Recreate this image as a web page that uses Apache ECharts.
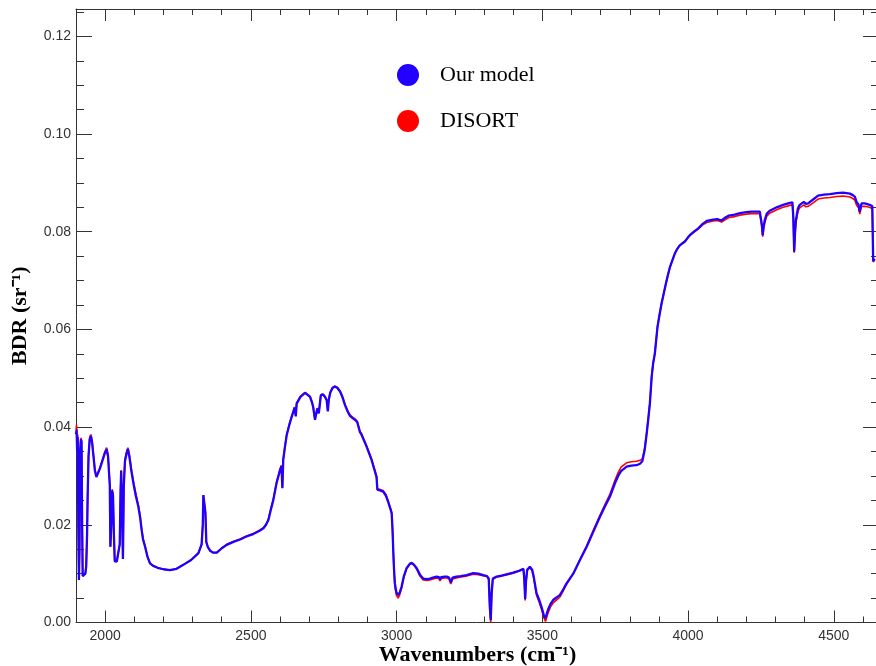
<!DOCTYPE html>
<html>
<head>
<meta charset="utf-8">
<script src="https://cdn.jsdelivr.net/npm/echarts@6/dist/echarts.min.js"></script>
<style>
  html, body { margin: 0; padding: 0; background: #ffffff; }
  #chart { width: 876px; height: 666px; }
</style>
</head>
<body>
<div id="chart"></div>
<script>
// Wavenumber grid (cm^-1) shared by both spectra
const wavenumbers = [
  1900,1902,1904,1906,1908,1910,1912,1914,1917,1919,
  1921,1923,1926,1929,1932,1935,1938,1940,1943,1947,
  1951,1955,1960,1965,1970,1975,1982,1990,1998,2005,
  2010,2014,2016,2018,2021,2024,2027,2030,2033,2040,
  2046,2050,2053,2055,2058,2061,2064,2068,2073,2078,
  2083,2090,2097,2105,2114,2120,2125,2130,2137,2145,
  2154,2165,2180,2200,2222,2245,2268,2295,2320,2331,
  2335,2337,2341,2344,2347,2352,2360,2370,2383,2400,
  2417,2440,2463,2485,2508,2530,2543,2552,2560,2568,
  2577,2588,2600,2605,2608,2611,2617,2623,2632,2640,
  2650,2654,2657,2670,2686,2703,2710,2714,2720,2725,
  2728,2733,2740,2747,2754,2760,2764,2767,2772,2780,
  2788,2797,2806,2815,2823,2832,2840,2850,2857,2865,
  2874,2880,2897,2914,2931,2934,2945,2954,2963,2971,
  2980,2983,2986,2988,2991,2994,2999,3005,3011,3017,
  3025,3034,3045,3052,3060,3069,3080,3091,3105,3114,
  3125,3137,3145,3149,3153,3165,3172,3180,3186,3192,
  3205,3220,3240,3263,3280,3297,3310,3316,3320,3323,
  3326,3330,3343,3360,3380,3400,3420,3435,3438,3441,
  3444,3448,3457,3465,3470,3480,3490,3497,3505,3511,
  3516,3520,3528,3537,3550,3560,3572,3583,3606,3629,
  3652,3675,3698,3715,3732,3749,3760,3770,3789,3805,
  3823,3835,3843,3851,3858,3864,3869,3875,3880,3886,
  3895,3902,3909,3917,3924,3931,3938,3947,3955,3962,
  3970,3980,3989,3998,4006,4020,4035,4050,4064,4086,
  4100,4115,4125,4140,4160,4178,4200,4218,4246,4250,
  4253,4256,4259,4263,4270,4280,4304,4326,4349,4358,
  4361,4364,4367,4370,4377,4383,4397,4404,4412,4429,
  4446,4466,4487,4510,4532,4555,4565,4572,4578,4585,
  4589,4592,4595,4606,4623,4632,4635,4640
];

// BDR (sr^-1) from our model
const ourModel = [
  .0385,.0395,.0350,.0380,.0200,.0087,.0150,.0350,.0375,.0370,
  .0200,.0095,.0092,.0098,.0100,.0115,.0180,.0260,.0340,.0375,
  .0382,.0370,.0340,.0310,.0298,.0300,.0315,.0330,.0345,.0355,
  .0340,.0300,.0280,.0155,.0200,.0270,.0260,.0180,.0125,.0125,
  .0125,.0160,.0270,.0310,.0230,.0130,.0280,.0330,.0345,.0355,
  .0340,.0310,.0285,.0260,.0237,.0215,.0190,.0170,.0155,.0135,
  .0121,.0116,.0112,.0109,.0107,.0110,.0118,.0128,.0142,.0160,
  .0200,.0261,.0260,.0225,.0165,.0155,.0147,.0143,.0143,.0152,
  .0159,.0165,.0170,.0176,.0181,.0188,.0193,.0200,.0210,.0230,
  .0251,.0285,.0312,.0320,.0275,.0333,.0360,.0384,.0405,.0421,
  .0440,.0422,.0448,.0462,.0470,.0462,.0450,.0440,.0415,.0430,
  .0438,.0428,.0465,.0467,.0462,.0455,.0432,.0455,.0470,.0480,
  .0483,.0480,.0473,.0460,.0445,.0432,.0423,.0418,.0415,.0410,
  .0390,.0384,.0360,.0333,.0298,.0272,.0270,.0268,.0260,.0247,
  .0230,.0224,.0190,.0155,.0110,.0080,.0062,.0056,.0062,.0073,
  .0095,.0111,.0120,.0122,.0118,.0111,.0098,.0090,.0089,.0090,
  .0092,.0094,.0093,.0088,.0093,.0094,.0094,.0092,.0082,.0092,
  .0094,.0095,.0097,.0101,.0100,.0097,.0095,.0090,.0030,.0005,
  .0060,.0090,.0094,.0096,.0099,.0102,.0106,.0110,.0090,.0048,
  .0085,.0108,.0114,.0108,.0095,.0060,.0045,.0032,.0015,.0008,
  .0020,.0027,.0038,.0046,.0052,.0056,.0068,.0080,.0100,.0128,
  .0155,.0186,.0217,.0238,.0258,.0285,.0300,.0310,.0319,.0321,
  .0322,.0325,.0330,.0353,.0387,.0420,.0449,.0503,.0530,.0551,
  .0605,.0630,.0653,.0675,.0694,.0712,.0728,.0743,.0756,.0764,
  .0771,.0776,.0780,.0787,.0793,.0800,.0807,.0816,.0822,.0825,
  .0826,.0823,.0828,.0833,.0835,.0838,.0840,.0841,.0841,.0840,
  .0815,.0793,.0810,.0824,.0837,.0843,.0850,.0855,.0859,.0860,
  .0830,.0759,.0800,.0824,.0848,.0855,.0861,.0857,.0858,.0866,
  .0874,.0876,.0877,.0879,.0880,.0878,.0875,.0872,.0861,.0855,
  .0841,.0850,.0858,.0858,.0855,.0852,.0740,.0745
];

// BDR (sr^-1) from DISORT
const disort = [
  .0395,.0405,.0355,.0385,.0200,.0087,.0150,.0352,.0378,.0372,
  .0200,.0095,.0092,.0098,.0100,.0115,.0180,.0262,.0342,.0378,
  .0385,.0373,.0342,.0312,.0300,.0302,.0317,.0332,.0348,.0358,
  .0343,.0303,.0283,.0155,.0200,.0273,.0263,.0180,.0125,.0125,
  .0125,.0160,.0272,.0312,.0230,.0130,.0282,.0333,.0348,.0358,
  .0344,.0314,.0289,.0264,.0240,.0218,.0193,.0172,.0157,.0136,
  .0121,.0116,.0112,.0109,.0107,.0110,.0118,.0128,.0142,.0160,
  .0200,.0261,.0260,.0225,.0165,.0155,.0147,.0143,.0143,.0152,
  .0160,.0166,.0171,.0177,.0182,.0189,.0194,.0201,.0211,.0231,
  .0252,.0287,.0314,.0322,.0277,.0335,.0361,.0385,.0406,.0422,
  .0441,.0423,.0449,.0463,.0471,.0463,.0451,.0441,.0416,.0431,
  .0439,.0429,.0466,.0468,.0463,.0456,.0433,.0456,.0471,.0481,
  .0484,.0481,.0474,.0461,.0446,.0433,.0425,.0420,.0417,.0412,
  .0392,.0386,.0362,.0335,.0300,.0274,.0272,.0270,.0262,.0249,
  .0232,.0225,.0190,.0153,.0106,.0075,.0056,.0050,.0057,.0070,
  .0093,.0110,.0119,.0121,.0117,.0109,.0095,.0087,.0086,.0087,
  .0089,.0091,.0090,.0085,.0090,.0091,.0091,.0089,.0079,.0089,
  .0091,.0093,.0095,.0099,.0098,.0096,.0094,.0088,.0025,.0000,
  .0056,.0088,.0093,.0095,.0098,.0101,.0105,.0109,.0088,.0045,
  .0082,.0106,.0113,.0106,.0092,.0056,.0040,.0027,.0010,.0002,
  .0013,.0020,.0032,.0040,.0047,.0052,.0065,.0078,.0100,.0129,
  .0157,.0189,.0220,.0242,.0263,.0291,.0307,.0318,.0327,.0329,
  .0330,.0332,.0335,.0356,.0389,.0421,.0450,.0503,.0530,.0551,
  .0605,.0630,.0653,.0675,.0694,.0712,.0728,.0743,.0756,.0764,
  .0771,.0776,.0780,.0787,.0792,.0799,.0806,.0814,.0819,.0822,
  .0823,.0820,.0824,.0829,.0831,.0834,.0836,.0837,.0837,.0836,
  .0810,.0790,.0805,.0818,.0832,.0838,.0845,.0850,.0854,.0855,
  .0825,.0757,.0795,.0818,.0842,.0849,.0855,.0851,.0852,.0859,
  .0867,.0869,.0870,.0872,.0873,.0871,.0868,.0865,.0854,.0849,
  .0836,.0845,.0852,.0852,.0850,.0847,.0738,.0742
];

// Tick positions
const xMajorTicks = [2000, 2500, 3000, 3500, 4000, 4500];
const xMinorTicks = [1900, 2000, 2100, 2200, 2300, 2400, 2500, 2600, 2700, 2800, 2900,
                     3000, 3100, 3200, 3300, 3400, 3500, 3600, 3700, 3800, 3900,
                     4000, 4100, 4200, 4300, 4400, 4500, 4600];
const yMajorTicks = [0, 0.02, 0.04, 0.06, 0.08, 0.10, 0.12];
const yMinorTicks = [0.005, 0.01, 0.015, 0.025, 0.03, 0.035, 0.045, 0.05, 0.055,
                     0.065, 0.07, 0.075, 0.085, 0.09, 0.095, 0.105, 0.11, 0.115, 0.125];

const X_MIN = 1900, X_MAX = 4655;
const Y_MIN = 0, Y_MAX = 0.1256;
const AXIS_COLOR = '#333333';
const LABEL_FONT = { fontFamily: 'Liberation Sans', fontSize: 14, color: '#333333' };
const TITLE_FONT = { fontFamily: 'Liberation Serif', fontSize: 22, fontWeight: 'bold', color: '#000000' };

// One axis that only draws inward ticks at the given values (plus optional line/labels)
function tickAxis(kind, position, values, tickLen, opts) {
  const o = opts || {};
  return Object.assign({
    type: 'value',
    position: position,
    min: kind === 'x' ? X_MIN : Y_MIN,
    max: kind === 'x' ? X_MAX : Y_MAX,
    axisLine: { show: !!o.line, onZero: false, lineStyle: { color: AXIS_COLOR, width: 1 } },
    axisTick: { show: true, inside: true, length: tickLen, customValues: values,
                lineStyle: { color: AXIS_COLOR, width: 1 } },
    axisLabel: { show: false },
    splitLine: { show: false }
  }, o.extra || {});
}

const xAxes = [
  tickAxis('x', 'bottom', xMajorTicks, 12, {
    line: true,
    extra: {
      name: 'Wavenumbers (cm⁻¹)',
      nameLocation: 'middle',
      nameGap: 22,
      nameMoveOverlap: false,
      nameTextStyle: TITLE_FONT,
      axisLabel: Object.assign({ show: true, margin: 7, customValues: xMajorTicks,
                                 formatter: v => String(v) }, LABEL_FONT)
    }
  }),
  tickAxis('x', 'bottom', xMinorTicks, 6),
  tickAxis('x', 'top', xMajorTicks, 12, { line: true }),
  tickAxis('x', 'top', xMinorTicks, 6)
];

const yAxes = [
  tickAxis('y', 'left', yMajorTicks, 16, {
    line: true,
    extra: {
      name: 'BDR (sr⁻¹)',
      nameLocation: 'middle',
      nameGap: 45,
      nameMoveOverlap: false,
      nameTextStyle: TITLE_FONT,
      axisLabel: Object.assign({ show: true, margin: 5, customValues: yMajorTicks,
                                 formatter: v => v.toFixed(2) }, LABEL_FONT)
    }
  }),
  tickAxis('y', 'left', yMinorTicks, 8),
  tickAxis('y', 'right', yMajorTicks, 16, { line: true }),
  tickAxis('y', 'right', yMinorTicks, 8)
];

const chart = echarts.init(document.getElementById('chart'), null, { renderer: 'canvas' });

chart.setOption({
  animation: false,
  backgroundColor: '#ffffff',
  grid: { left: 76, top: 9, width: 803, height: 613.5, containLabel: false, outerBoundsMode: 'none' },
  xAxis: xAxes,
  yAxis: yAxes,
  legend: {
    data: ['Our model', 'DISORT'],
    orient: 'vertical',
    left: 392,
    top: 59,
    icon: 'circle',
    itemWidth: 22,
    itemHeight: 22,
    itemGap: 24,
    selectedMode: false,
    textStyle: { fontFamily: 'Liberation Serif', fontSize: 22, color: '#000000',
                 padding: [0, 0, 0, 16] }
  },
  series: [
    {
      name: 'DISORT',
      type: 'line',
      xAxisIndex: 0,
      yAxisIndex: 0,
      showSymbol: false,
      color: '#ff0000',
      lineStyle: { color: '#ff0000', width: 1.6 },
      data: wavenumbers.map((w, i) => [w, disort[i]])
    },
    {
      name: 'Our model',
      type: 'line',
      xAxisIndex: 0,
      yAxisIndex: 0,
      showSymbol: false,
      color: '#2200ff',
      lineStyle: { color: '#2200ff', width: 2.3 },
      data: wavenumbers.map((w, i) => [w, ourModel[i]])
    }
  ]
});
</script>
</body>
</html>
